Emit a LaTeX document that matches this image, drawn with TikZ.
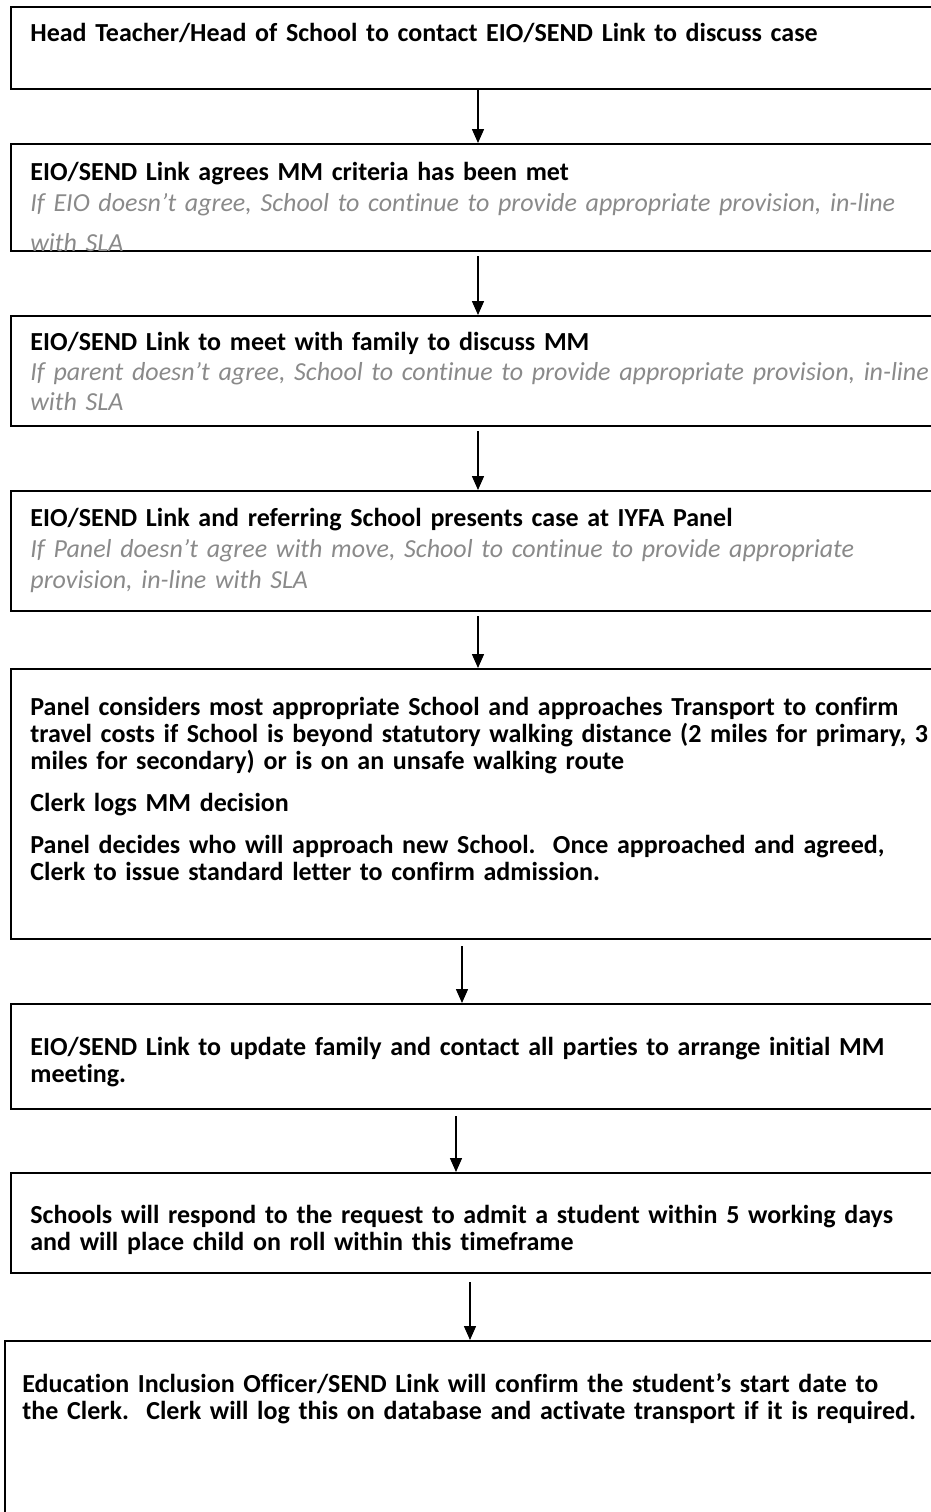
\documentclass[tikz,border=0pt]{standalone}
\usepackage{fontspec}
\setmainfont{Carlito}[Ligatures=NoCommon]
\usetikzlibrary{positioning,arrows.meta}
\definecolor{notegray}{HTML}{8A8A8A}
\newcommand\notetext[1]{{\mdseries\itshape\color{notegray}#1}}
\frenchspacing
\begin{document}
\begin{tikzpicture}[x=0.5pt,y=-0.5pt,
    box/.style={draw, line width=1pt, anchor=north west, minimum width=470pt, inner sep=0pt},
    txt/.style={anchor=north west, inner sep=0pt, text width=470pt, align=left,
      font=\bfseries\fontsize{13}{13.5}\selectfont},
    flow/.style={-{Triangle[width=6pt,length=7pt]}, line width=0.75pt}]
  \clip (0,0) rectangle (931,1512);

  \node[box, minimum height=41pt] (b1) at (10,6) {};
  \node[box, minimum height=53.5pt] (b2) at (10,143) {};
  \node[box, minimum height=55pt] (b3) at (10,315) {};
  \node[box, minimum height=60pt] (b4) at (10,490) {};
  \node[box, minimum height=135pt] (b5) at (10,668) {};
  \node[box, minimum height=52.5pt] (b6) at (10,1003) {};
  \node[box, minimum height=50pt] (b7) at (10,1172) {};
  \node[box, minimum height=100pt] (b8) at (4,1340) {};

  \node[txt, below right=8.5pt and 10pt of b1.north west] (t1)
    {Head Teacher/Head of School to contact EIO/SEND Link to discuss case};
  \begin{scope}
    \clip (b2.north west) rectangle ([yshift=0.5pt]b2.south east);
    \node[txt, below right=9.5pt and 10pt of b2.north west] (t2)
      {EIO/SEND Link agrees MM criteria has been met\\[2pt]
       \notetext{If EIO doesn’t agree, School to continue to provide appropriate provision, in-line}\\[6.5pt]
       \notetext{with SLA}};
  \end{scope}
  \node[txt, below right=8.5pt and 10pt of b3.north west] (t3)
    {EIO/SEND Link to meet with family to discuss MM\\[1.5pt]
     \notetext{If parent doesn’t agree, School to continue to provide appropriate provision, in-line}\\[1.5pt]
     \notetext{with SLA}};
  \node[txt, below right=9pt and 10pt of b4.north west] (t4)
    {EIO/SEND Link and referring School presents case at IYFA Panel\\[2pt]
     \notetext{If Panel doesn’t agree with move, School to continue to provide appropriate}\\[2pt]
     \notetext{provision, in-line with SLA}};
  \node[txt, below right=14.5pt and 10pt of b5.north west] (t5)
    {Panel considers most appropriate School and approaches Transport to confirm\\
     travel costs if School is beyond statutory walking distance (2 miles for primary, 3\\
     miles for secondary) or is on an unsafe walking route\\[7.5pt]
     Clerk logs MM decision\\[7.5pt]
     Panel decides who will approach new School.~ Once approached and agreed,\\
     Clerk to issue standard letter to confirm admission.};
  \node[txt, below right=17pt and 10pt of b6.north west] (t6)
    {EIO/SEND Link to update family and contact all parties to arrange initial MM\\
     meeting.};
  \node[txt, below right=16.5pt and 10pt of b7.north west] (t7)
    {Schools will respond to the request to admit a student within 5 working days\\
     and will place child on roll within this timeframe};
  \node[txt, below right=16.5pt and 9pt of b8.north west] (t8)
    {Education Inclusion Officer/SEND Link will confirm the student’s start date to\\
     the Clerk.~ Clerk will log this on database and activate transport if it is required.};

  \coordinate (c1) at (478,0);
  \coordinate (c5) at (462,0);
  \coordinate (c6) at (456,0);
  \coordinate (c7) at (470,0);
  \draw[flow] (b1.south -| c1) -- (b2.north -| c1);
  \draw[flow, shorten <=2pt] (b2.south -| c1) -- (b3.north -| c1);
  \draw[flow, shorten <=2pt] (b3.south -| c1) -- (b4.north -| c1);
  \draw[flow, shorten <=2pt] (b4.south -| c1) -- (b5.north -| c1);
  \draw[flow, shorten <=3pt] (b5.south -| c5) -- (b6.north -| c5);
  \draw[flow, shorten <=3pt] (b6.south -| c6) -- (b7.north -| c6);
  \draw[flow, shorten <=4pt] (b7.south -| c7) -- (b8.north -| c7);
\end{tikzpicture}
\end{document}
